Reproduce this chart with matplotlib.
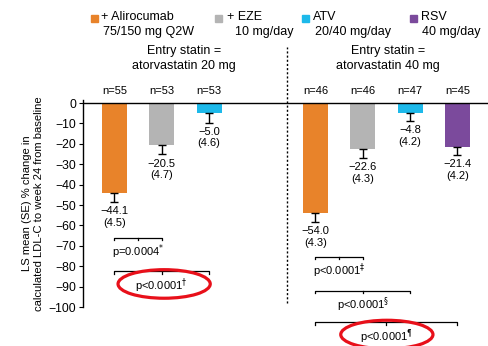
import matplotlib.pyplot as plt
from matplotlib.patches import Ellipse, Rectangle

plt.rcParams['font.family'] = ['Liberation Sans', 'DejaVu Sans']
plt.rcParams['font.size'] = 8
plt.rcParams['axes.unicode_minus'] = True

# treatment arms
colors = ['#E8832A', '#B4B4B4', '#1DB9EA', '#7B4A9C']
legend_top = ['+ Alirocumab', '+ EZE', 'ATV', 'RSV']
legend_bottom = ['75/150 mg Q2W', '10 mg/day', '20/40 mg/day', '40 mg/day']

# entry statin = atorvastatin 20 mg
atv20_mean = [-44.1, -20.5, -5.0]
atv20_se = [4.5, 4.7, 4.6]
atv20_n = [55, 53, 53]

# entry statin = atorvastatin 40 mg
atv40_mean = [-54.0, -22.6, -4.8, -21.4]
atv40_se = [4.3, 4.3, 4.2, 4.2]
atv40_n = [46, 46, 47, 45]

atv20_pvals = [r'p=0.0004$^{*}$', r'p<0.0001$^{\dagger}$']
atv40_pvals = [r'p<0.0001$^{\ddagger}$', r'p<0.0001$^{\S}$', r'p<0.0001$^{\P}$']

W, H = 489, 346
fig = plt.figure(figsize=(W / 100, H / 100), dpi=100)
ax = fig.add_axes([83 / W, 39 / H, 1 - 83 / W, (307 - 100) / H])

x20 = [0, 1, 2]
x40 = [4.25, 5.25, 6.25, 7.25]
bw = 0.53


def draw_group(xs, means, ses, ns):
    for i, (x, m, s, n) in enumerate(zip(xs, means, ses, ns)):
        ax.bar(x, m, width=bw, color=colors[i], zorder=2)
        ax.errorbar(x, m, yerr=[[s], [0]], fmt='none', ecolor='black',
                    elinewidth=1.0, capsize=3, capthick=1.0, zorder=3)
        ax.text(x, m - s - 2.0, '\u2212%.1f\n(%.1f)' % (abs(m), s),
                ha='center', va='top', linespacing=1.2)
        ax.text(x, 3.5, 'n=%d' % n, ha='center', va='bottom', clip_on=False)


def bracket(x0, x1, y, label):
    kw = dict(color='black', lw=0.9, clip_on=False)
    ax.plot([x0, x0, x1, x1], [y - 1.2, y, y, y - 1.2], **kw)
    xm = (x0 + x1) / 2
    ax.plot([xm, xm], [y, y - 1.2], **kw)
    ax.text(xm, y - 2.3, label, ha='center', va='top', clip_on=False)


draw_group(x20, atv20_mean, atv20_se, atv20_n)
draw_group(x40, atv40_mean, atv40_se, atv40_n)

bracket(x20[0], x20[1], -66, atv20_pvals[0])
bracket(x20[0], x20[2], -82.5, atv20_pvals[1])
bracket(x40[0], x40[1], -75.5, atv40_pvals[0])
bracket(x40[0], x40[2], -92, atv40_pvals[1])
bracket(x40[0], x40[3], -107.5, atv40_pvals[2])

# red highlight rings
for cx, cy in [(1.05, -88.7), (5.76, -113.5)]:
    ax.add_patch(Ellipse((cx, cy), 1.95, 14.0, fill=False, edgecolor='#E8101A',
                         lw=2.3, clip_on=False, zorder=5))

# divider between the two entry-statin groups
ax.plot([3.65, 3.65], [-98, 27.5], color='black', lw=1.0,
        linestyle=(0, (1.5, 1.5)), clip_on=False)

ax.text(1.47, 22, 'Entry statin =\natorvastatin 20 mg', ha='center', va='center',
        fontsize=9, linespacing=1.3)
ax.text(5.78, 22, 'Entry statin =\natorvastatin 40 mg', ha='center', va='center',
        fontsize=9, linespacing=1.3)

ax.axhline(0, color='black', lw=1.0, zorder=4)
ax.set_xlim(-0.666, 7.92)
ax.set_ylim(-100, 1.5)
ax.set_yticks(range(-100, 1, 10))
ax.set_xticks([])
for side in ['top', 'right', 'bottom']:
    ax.spines[side].set_visible(False)
ax.spines['left'].set_linewidth(1.0)
ax.tick_params(axis='y', length=3, width=0.8, pad=2, labelsize=8.8)
ax.set_ylabel('LS mean (SE) % change in\ncalculated LDL-C to week 24 from baseline',
              fontsize=8.1, labelpad=3, linespacing=1.3)

# legend across the top
sq_x = [91, 215, 302, 410]
t1_x = [101, 227, 313, 421]
t2_x = [103, 235, 315, 422]
for c, a, b, sx, x1, x2 in zip(colors, legend_top, legend_bottom, sq_x, t1_x, t2_x):
    fig.add_artist(Rectangle((sx / W, 1 - 21.5 / H), 7 / W, 7 / H, color=c,
                             transform=fig.transFigure))
    fig.text(x1 / W, 1 - 17.5 / H, a, ha='left', va='center', fontsize=9)
    fig.text(x2 / W, 1 - 32 / H, b, ha='left', va='center', fontsize=9)

fig.savefig('out.png', dpi=100)
